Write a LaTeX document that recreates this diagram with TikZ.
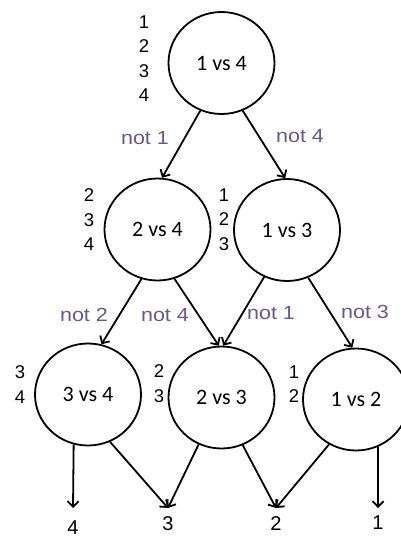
\documentclass[tikz,border=0pt]{standalone}
\usepackage{fontspec}
\setmainfont{Liberation Sans}
\newfontfamily\vsfont{Carlito}
\usetikzlibrary{shapes.geometric,arrows.meta}
\definecolor{notpurple}{RGB}{106,86,142}
\tikzset{
  game/.style={ellipse, draw, line width=1.8pt, minimum width=106pt, minimum height=102pt,
    inner sep=0pt, font=\vsfont\fontsize{22}{24}\selectfont},
  nums/.style={align=center, inner sep=0pt, font=\fontsize{18.5}{24.5}\selectfont},
  notlbl/.style={text=notpurple, inner sep=0pt, font=\fontsize{19}{20}\selectfont, xscale=1.13},
  outlbl/.style={anchor=north, inner xsep=0pt, font=\fontsize{20}{20}\selectfont},
  flow/.style={line width=1.8pt, -{Straight Barb[length=5.5pt,width=11pt,line width=1.8pt]}}
}
\begin{document}
\begin{tikzpicture}[x=1pt,y=-1pt]
\useasboundingbox (0,0) rectangle (401,539);
\clip (0,0) rectangle (401,539);

% games
\node[game] (t)  at (221.5,63)   {1 vs 4};
\node[game] (m1) at (157.5,229.5) {2 vs 4};
\node[game] (m2) at (287,230)    {1 vs 3};
\node[game] (b1) at (88,394.5)   {3 vs 4};
\node[game] (b2) at (221.5,397.5) {2 vs 3};
\node[game] (b3) at (356,399.5)  {1 vs 2};

% remaining candidates beside each game
\node[nums] (nt)  at (144,58.5)  {1\\2\\3\\4};
\node[nums] (nm1) at (89,220)    {2\\3\\4};
\node[nums] (nm2) at (224,219.5) {1\\2\\3};
\node[nums] (nb1) at (20,384.5)  {3\\4};
\node[nums] (nb2) at (159,383.5) {2\\3};
\node[nums] (nb3) at (294,384)   {1\\2};

% final outcomes
\node[outlbl, inner ysep=13pt] (o4) at (73,508)  {4};
\node[outlbl, inner ysep=8pt]  (o3) at (168,508) {3};
\node[outlbl, inner ysep=8pt]  (o2) at (276,508) {2};
\node[outlbl, inner ysep=8pt]  (o1) at (378,508) {1};

% eliminations
\draw[flow] (t.246)  -- (m1.85);
\draw[flow] (t.294)  -- (m2.92);
\draw[flow] (m1.252) -- (b1.75);
\draw[flow] (m1.289) -- (b2.93);
\draw[flow] (m2.244) -- (b2.88);
\draw[flow] (m2.294) -- (b3.94);
\draw[flow] (b1.254) -- (o4.north);
\draw[flow] (b1.295) -- (o3.north);
\draw[flow] (b2.244) -- (o3.north);
\draw[flow] (b2.294) -- (o2.north);
\draw[flow] (b3.239) -- (o2.north);
\draw[flow] (b3.295) -- (o1.north);

% edge labels
\node[notlbl] (l1) at (145,138) {not 1};
\node[notlbl] (l2) at (300,136) {not 4};
\node[notlbl] (l3) at (84,315)  {not 2};
\node[notlbl] (l4) at (165,315) {not 4};
\node[notlbl] (l5) at (271,313) {not 1};
\node[notlbl] (l6) at (365,312) {not 3};
\end{tikzpicture}
\end{document}
